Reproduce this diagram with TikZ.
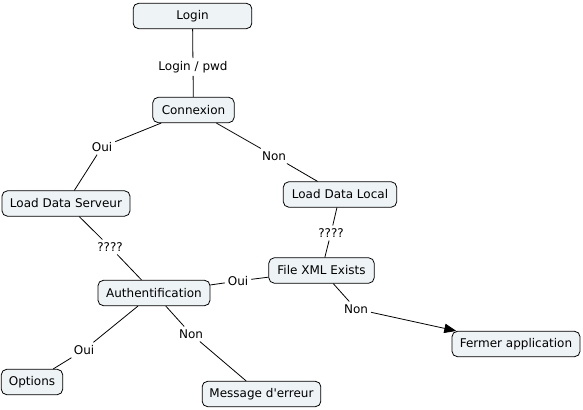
\documentclass[tikz,border=0pt]{standalone}
\usepackage{fontspec}
\setmainfont{DejaVu Sans}
\usetikzlibrary{arrows.meta,positioning}
\definecolor{boxfill}{RGB}{238,243,246}

\begin{document}
\begin{tikzpicture}[x=0.75pt, y=-0.75pt,
    concept/.style={rectangle, rounded corners=4pt, draw, fill=boxfill, line width=0.6pt, inner sep=0pt, minimum height=19pt, font=\fontsize{9}{11}\selectfont},
    link/.style={inner sep=2pt, font=\fontsize{9}{11}\selectfont},
    every path/.style={line width=0.6pt}
]
\useasboundingbox (0,0) rectangle (583,410);

% Concepts
\node (login) [concept, minimum width=89pt] at (192.5,16) {Login};
\node (cnx) [concept, minimum width=61pt] at (193.5,110) {Connexion};
\node (lds) [concept, minimum width=96pt] at (66,203.5) {Load Data Serveur};
\node (ldl) [concept, minimum width=85pt] at (340,194.5) {Load Data Local};
\node (xml) [concept, minimum width=79pt] at (321.5,270.5) {File XML Exists};
\node (auth) [concept, minimum width=84pt] at (154,293) {Authentification};
\node (fermer) [concept, minimum width=96pt] at (516,344) {Fermer application};
\node (opts) [concept, minimum width=46pt] at (32,382) {Options};
\node (msg) [concept, minimum width=89pt] at (261.5,394) {Message d\textquotesingle erreur};

% Liens
\node (l1) [link] at (193,67) {Login / pwd};
\node (l2) [link] at (102,147) {Oui};
\node (l3) [link] at (274,156) {Non};
\node (l4) [link] at (110,247) {????};
\node (l5) [link] at (331,233) {????};
\node (l6) [link] at (238,281) {Oui};
\node (l7) [link] at (356,309) {Non};
\node (l8) [link] at (84,350) {Oui};
\node (l9) [link] at (191,334) {Non};

% Connexions
\draw (login) -- (l1) -- (cnx);
\draw (cnx) -- (l2) -- (lds);
\draw (cnx) -- (l3) -- (ldl);
\draw (lds) -- (l4) -- (auth);
\draw (ldl) -- (l5) -- (xml);
\draw (xml) -- (l6) -- (auth);
\draw (xml) -- (l7);
\draw[-{Triangle[length=9pt, width=7pt]}] (l7) -- (fermer);
\draw (auth) -- (l8) -- (opts);
\draw (auth) -- (l9) -- (msg);

\end{tikzpicture}
\end{document}
